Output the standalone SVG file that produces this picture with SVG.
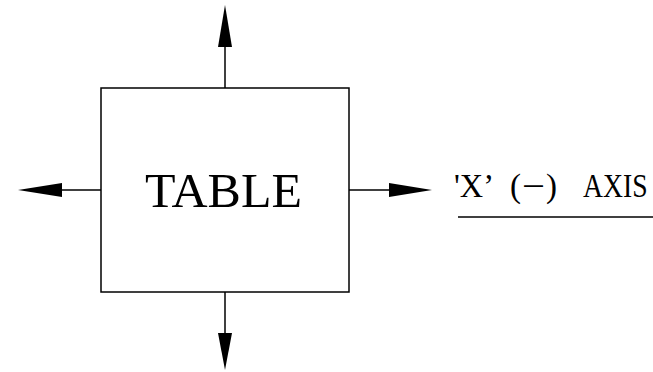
<svg xmlns="http://www.w3.org/2000/svg" width="653" height="372" viewBox="0 0 653 372">
<style>
.ln{stroke:#000;stroke-width:1.5;fill:none}
.ah{fill:#000;stroke:none}
.t{font-family:"Liberation Serif","Times New Roman",serif;fill:#000}
</style>
<rect width="653" height="372" fill="#fff"/>
<g id="table">
<rect class="ln" x="101" y="88" width="248" height="204"/>
<text class="t" x="145" y="207" font-size="49" textLength="157" lengthAdjust="spacingAndGlyphs">TABLE</text>
</g>
<g id="connectors">
<line class="ln" x1="225" y1="88" x2="225" y2="46"/>
<polygon class="ah" points="225,5 218,47 232,47"/>
<line class="ln" x1="101" y1="190" x2="61" y2="190"/>
<polygon class="ah" points="18,190 62,183 62,197"/>
<line class="ln" x1="349" y1="190" x2="390" y2="190"/>
<polygon class="ah" points="432,190 389,183 389,197"/>
<line class="ln" x1="225" y1="292" x2="225" y2="334"/>
<polygon class="ah" points="225,370 218,333 232,333"/>
</g>
<g id="axis-label">
<text class="t" font-size="33" y="197"><tspan x="454" textLength="40" lengthAdjust="spacingAndGlyphs">'X’</tspan><tspan x="510">(</tspan><tspan x="522" textLength="23" lengthAdjust="spacingAndGlyphs">−</tspan><tspan x="546">)</tspan></text>
<text class="t" font-size="33" transform="translate(583,197) scale(0.84,1)">AXIS</text>
<line class="ln" x1="458" y1="217" x2="653" y2="217"/>
</g>
</svg>
